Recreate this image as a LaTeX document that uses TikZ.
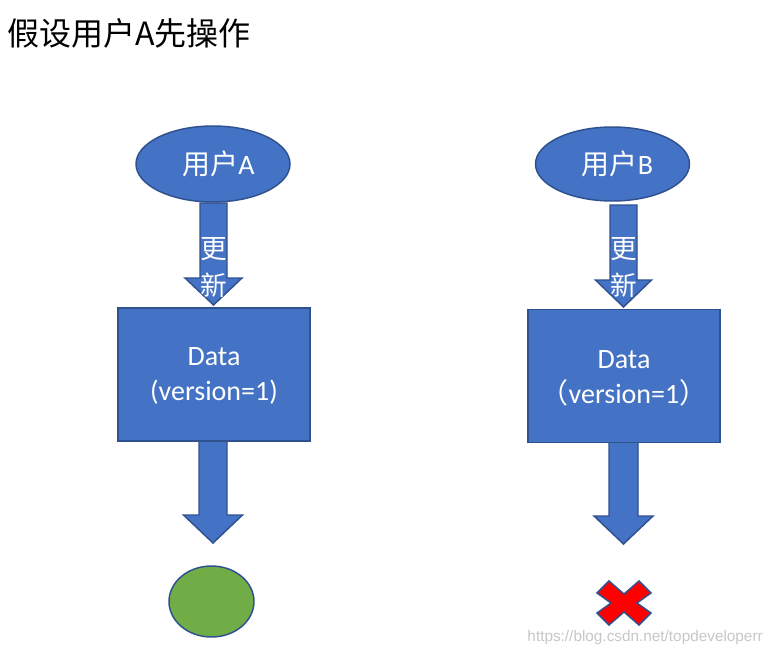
\documentclass[tikz,border=0pt]{standalone}
\usepackage{fontspec}
\setmainfont{Carlito}
\newfontfamily\cjk{Noto Sans CJK SC}
\newfontfamily\wmfont{Liberation Sans}
\usetikzlibrary{shapes.geometric}
\definecolor{fillblue}{HTML}{4472C4}
\definecolor{edgeblue}{HTML}{2F528F}
\definecolor{fillgreen}{HTML}{70AD47}
\newcommand\blockarrowdown[6]{%
  \draw[shapeline, fill=fillblue] (#1-#5,#2) -- (#1+#5,#2) -- (#1+#5,#3) -- (#1+#6,#3) -- (#1,#4) -- (#1-#6,#3) -- (#1-#5,#3) -- cycle;}
\begin{document}
\begin{tikzpicture}[x=0.75pt,y=-0.75pt,
  shapeline/.style={draw=edgeblue, line width=1.1pt, line join=miter},
  userell/.style={ellipse, shapeline, fill=fillblue, minimum width=115.5pt, minimum height=57pt, inner sep=0pt, text=white, font=\fontsize{21}{24}\selectfont},
  databox/.style={rectangle, shapeline, fill=fillblue, minimum width=144pt, minimum height=99.75pt, inner sep=0pt, text=white, align=center, font=\fontsize{21}{26.5}\selectfont},
  updtext/.style={text=white, align=center, inner sep=0pt, font=\cjk\fontsize{20}{27.75}\selectfont}
]
\useasboundingbox (0,0) rectangle (774,657);
\fill[white] (0,0) rectangle (774,657);

\node[anchor=west, inner sep=0pt, font=\cjk\fontsize{24}{28}\selectfont] (title) at (7,33) {假设用户A先操作};

% block arrows (drawn under boxes)
\blockarrowdown{213.5}{203}{278}{305}{13.5}{28.5}
\blockarrowdown{623.5}{205}{280}{307}{13.5}{28}
\blockarrowdown{213}{441}{515}{543}{14}{29.5}
\blockarrowdown{623.5}{442}{516}{544}{14.5}{29.5}

\node[userell] (ua) at (213,164) {};
\node[text=white, inner sep=0pt, font=\fontsize{21}{24}\selectfont] (uat) at (218.5,164) {{\cjk 用户}A};
\node[userell, minimum height=55.5pt] (ub) at (612.5,164) {};
\node[text=white, inner sep=0pt, font=\fontsize{21}{24}\selectfont] (ubt) at (617.5,164) {{\cjk 用户}B};

\node[updtext] (upa) at (213.5,267.5) {更\\新};
\node[updtext] (upb) at (623.5,268) {更\\新};

\node[databox] (da) at (214,374.5) {};
\node[text=white, align=center, inner sep=0pt, font=\fontsize{21}{26.5}\selectfont] (dat) at (214,376) {Data\\(version=1)};
\node[databox] (db) at (624,376) {};
\node[text=white, align=center, inner sep=0pt, font=\fontsize{21}{26.5}\selectfont] (dbt) at (624,378.5) {Data\\{\cjk （}version=1{\cjk ）}};

\node[ellipse, shapeline, fill=fillgreen, minimum width=63.75pt, minimum height=53.25pt, inner sep=0pt] (ok) at (211.5,601.5) {};

\coordinate (xc) at (624,603);
\draw[shapeline, fill=red] ([shift={(-15,-22)}]xc) -- ([shift={(0,-9)}]xc) -- ([shift={(15,-22)}]xc) -- ([shift={(27,-10)}]xc) -- ([shift={(13,0)}]xc) -- ([shift={(27,10)}]xc) -- ([shift={(15,22)}]xc) -- ([shift={(0,9)}]xc) -- ([shift={(-15,22)}]xc) -- ([shift={(-27,10)}]xc) -- ([shift={(-13,0)}]xc) -- ([shift={(-27,-10)}]xc) -- cycle;

\node[anchor=east, inner sep=0pt, text=black!22, font=\wmfont\fontsize{11.5}{14}\selectfont] (wm) at (763,638) {https://blog.csdn.net/topdeveloperr};
\end{tikzpicture}
\end{document}
